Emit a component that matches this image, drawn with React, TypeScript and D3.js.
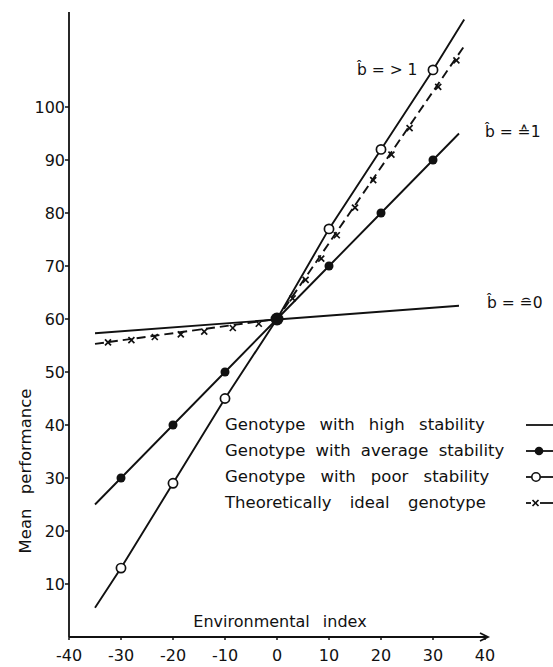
import React from "react";
import * as d3 from "d3";

const X_TICKS = [-40, -30, -20, -10, 0, 10, 20, 30, 40];
const Y_TICKS = [10, 20, 30, 40, 50, 60, 70, 80, 90, 100];

const ENV = [-30, -20, -10, 0, 10, 20, 30];
const AVERAGE = [30, 40, 50, 60, 70, 80, 90];
const POOR = [13, 29, 45, 60, 77, 92, 107];

const HIGH_LINE: [number, number][] = [[-35, 57.3], [35, 62.5]];
const AVERAGE_LINE: [number, number][] = [[-35, 25], [35, 95]];
const POOR_LINE: [number, number][] = [[-35, 5.5], [36, 116.5]];
const IDEAL_LINE: [number, number][] = [[-35, 55.3], [0, 60], [36, 111.5]];

const IDEAL_MARK_X = [-32.5, -28, -23.5, -18.5, -14, -8.5, -3.5, 3, 5.5, 8.5, 11.5, 15, 18.5, 22, 25.5, 31, 34.5];
const IDEAL_MARK_Y = [55.6, 56.0, 56.6, 57.1, 57.6, 58.3, 59.1, 63.9, 67.4, 71.4, 75.8, 81, 86.2, 91, 96, 103.8, 108.8];

const LEGEND = [
  "Genotype with high stability",
  "Genotype with average stability",
  "Genotype with poor stability",
  "Theoretically ideal genotype",
];
const SLOPE_LABELS = ["b\u0302 = > 1", "b\u0302 = \u22591", "b\u0302 = \u22580"];

const FONT = "DejaVu Sans, sans-serif";
const INK = "#111";

export default function App() {
  const x = d3.scaleLinear().domain([-40, 40]).range([69, 485]);
  const y = d3.scaleLinear().domain([0, 100]).range([637, 107]);
  const line = d3
    .line<[number, number]>()
    .x((d) => x(d[0]))
    .y((d) => y(d[1]));

  const avgPath = line([AVERAGE_LINE[0], ...ENV.map((e, i) => [e, AVERAGE[i]] as [number, number]), AVERAGE_LINE[1]]);
  const poorPath = line([POOR_LINE[0], ...ENV.map((e, i) => [e, POOR[i]] as [number, number]), POOR_LINE[1]]);

  const legendBase = [430, 456, 482, 508];
  const legendWS = [9, 5, 10, 13];
  const slopePos = [
    { x: 357, base: 75 },
    { x: 485, base: 137 },
    { x: 487, base: 308 },
  ];

  const cross = (cx: number, cy: number, s: number, key: string) => (
    <g key={key}>
      <line x1={cx - s} y1={cy - s} x2={cx + s} y2={cy + s} stroke={INK} strokeWidth={1.7} />
      <line x1={cx - s} y1={cy + s} x2={cx + s} y2={cy - s} stroke={INK} strokeWidth={1.7} />
    </g>
  );

  return (
    <svg
      width={553}
      height={667}
      style={{ position: "absolute", left: 0, top: 0, background: "#fff" }}
      fontFamily={FONT}
    >
      <rect width={553} height={667} fill="#fff" />
      {/* axes */}
      <line x1={x(-40)} y1={12} x2={x(-40)} y2={y(0)} stroke={INK} strokeWidth={1.8} />
      <line x1={x(-40)} y1={y(0)} x2={487} y2={y(0)} stroke={INK} strokeWidth={1.8} />
      <path d={`M480,633 L488,${y(0)} L480,641`} fill="none" stroke={INK} strokeWidth={1.8} />
      {Y_TICKS.map((t) => (
        <g key={"y" + t}>
          <line x1={x(-40) - 4} x2={x(-40)} y1={y(t)} y2={y(t)} stroke={INK} strokeWidth={1.5} />
          <text x={x(-40) - 4} y={y(t)} dy="0.36em" textAnchor="end" fontSize={16} fill={INK}>
            {t}
          </text>
        </g>
      ))}
      {X_TICKS.map((t) => (
        <g key={"x" + t}>
          <line x1={x(t)} x2={x(t)} y1={y(0)} y2={y(0) + 3} stroke={INK} strokeWidth={1.5} />
          <text x={x(t)} y={661} textAnchor="middle" fontSize={16} fill={INK}>
            {t}
          </text>
        </g>
      ))}
      <text x={280} y={627} textAnchor="middle" fontSize={16} wordSpacing={8} fill={INK}>
        Environmental index
      </text>
      <text
        transform="translate(31,471) rotate(-90)"
        textAnchor="middle"
        fontSize={16.5}
        wordSpacing={9}
        fill={INK}
      >
        Mean performance
      </text>

      {/* lines */}
      <path d={line(HIGH_LINE) || ""} fill="none" stroke={INK} strokeWidth={1.9} />
      <path d={avgPath || ""} fill="none" stroke={INK} strokeWidth={1.9} />
      <path d={poorPath || ""} fill="none" stroke={INK} strokeWidth={1.9} />
      <path d={line(IDEAL_LINE) || ""} fill="none" stroke={INK} strokeWidth={1.9} strokeDasharray="9,5" />
      {IDEAL_MARK_X.map((mx, i) => cross(x(mx), y(IDEAL_MARK_Y[i]), 3, "m" + i))}

      {ENV.map((e, i) =>
        e === 0 ? null : (
          <circle key={"p" + i} cx={x(e)} cy={y(POOR[i])} r={4.6} fill="#fff" stroke={INK} strokeWidth={1.7} />
        )
      )}
      {ENV.map((e, i) => (
        <circle key={"a" + i} cx={x(e)} cy={y(AVERAGE[i])} r={e === 0 ? 6.5 : 4.5} fill={INK} />
      ))}

      {/* slope labels */}
      {SLOPE_LABELS.map((s, i) => {
        const p = slopePos[i];
        return (
          <text key={"s" + i} x={p.x} y={p.base} fontSize={15.5} fill={INK}>
            {s}
          </text>
        );
      })}

      {/* legend */}
      {LEGEND.map((l, i) => (
        <text key={"l" + i} x={225} y={legendBase[i]} fontSize={16.5} wordSpacing={legendWS[i]} fill={INK}>
          {l}
        </text>
      ))}
      {legendBase.map((b, i) => {
        const cy = b - 5;
        return (
          <g key={"ls" + i}>
            <line x1={526} x2={553} y1={cy} y2={cy} stroke={INK} strokeWidth={1.8} />
            {i === 1 && <circle cx={539} cy={cy} r={4.3} fill={INK} />}
            {i === 2 && <circle cx={536} cy={cy} r={4.2} fill="#fff" stroke={INK} strokeWidth={1.6} />}
            {i === 3 && (
              <g>
                <rect x={531} y={cy - 4} width={9} height={8} fill="#fff" />
                {cross(535.5, cy, 3, "lx")}
              </g>
            )}
          </g>
        );
      })}
    </svg>
  );
}
